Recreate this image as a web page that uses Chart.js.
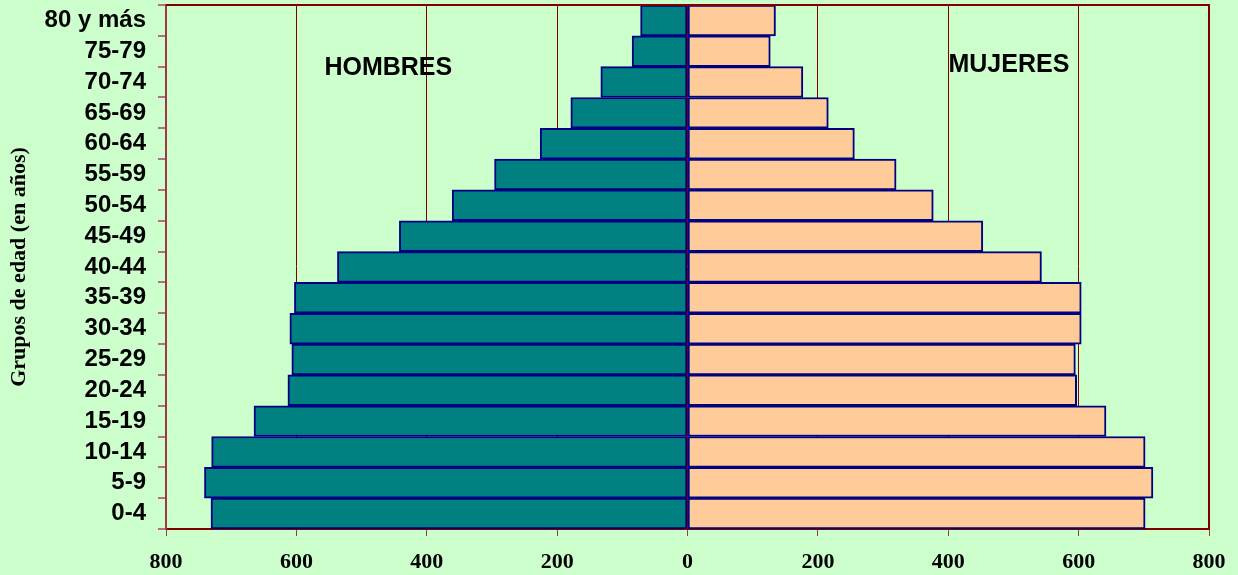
<!DOCTYPE html>
<html>
<head>
<meta charset="utf-8">
<script src="https://cdn.jsdelivr.net/npm/chart.js"></script>
<style>
  html, body { margin: 0; padding: 0; background: #CCFFCC; }
  #wrap { width: 1238px; height: 575px; position: relative; }
</style>
</head>
<body>
<div id="wrap"><canvas id="pyramid"></canvas></div>
<script>
// grupos de edad, de abajo hacia arriba
const ageGroups = ['0-4', '5-9', '10-14', '15-19', '20-24', '25-29', '30-34', '35-39',
  '40-44', '45-49', '50-54', '55-59', '60-64', '65-69', '70-74', '75-79', '80 y más'];
const hombres = [731, 741, 730, 665, 613, 607, 610, 603, 537, 442, 361, 296, 226, 179, 133, 85, 72];
const mujeres = [702, 714, 702, 642, 597, 595, 604, 604, 543, 453, 377, 320, 256, 216, 177, 127, 135];
const xTicks = [-800, -600, -400, -200, 0, 200, 400, 600, 800];
const sideLabels = ['HOMBRES', 'MUJERES'];

const darkRed = '#800000';
const mauve = '#A0384A';

// marco superior/derecho y rótulos de cada lado
const extras = {
  id: 'extras',
  afterDraw(chart) {
    const { ctx, chartArea: a, scales } = chart;
    ctx.save();
    ctx.strokeStyle = darkRed;
    ctx.lineWidth = 2;
    ctx.beginPath();
    ctx.moveTo(a.left, a.top);
    ctx.lineTo(a.right, a.top);
    ctx.lineTo(a.right, a.bottom);
    ctx.stroke();

    ctx.fillStyle = '#000';
    ctx.font = 'bold 25px "Liberation Sans", Arial, sans-serif';
    ctx.textAlign = 'center';
    ctx.textBaseline = 'middle';
    ctx.fillText(sideLabels[0], scales.x.getPixelForValue(-459), a.top + 63);
    ctx.fillText(sideLabels[1], scales.x.getPixelForValue(493), a.top + 60);
    ctx.restore();
  }
};

new Chart(document.getElementById('pyramid'), {
  type: 'bar',
  data: {
    labels: ageGroups,
    datasets: [{
      label: 'Hombres',
      data: hombres.map(v => -v),
      backgroundColor: '#008080',
      borderColor: '#000080',
      borderWidth: 2,
      borderSkipped: false
    }, {
      label: 'Mujeres',
      data: mujeres,
      backgroundColor: '#FFCC99',
      borderColor: '#000080',
      borderWidth: 2,
      borderSkipped: false
    }]
  },
  options: {
    indexAxis: 'y',
    responsive: true,
    maintainAspectRatio: false,
    animation: false,
    layout: { padding: { top: 5, right: 29, left: 0, bottom: 0 } },
    datasets: { bar: { barPercentage: 1, categoryPercentage: 1 } },
    plugins: {
      legend: { display: false },
      tooltip: { enabled: false }
    },
    scales: {
      x: {
        stacked: true,
        min: -800,
        max: 800,
        afterBuildTicks: s => { s.ticks = xTicks.map(v => ({ value: v })); },
        afterFit: s => { s.height = 46; s.paddingLeft = 0; s.paddingRight = 0; },
        ticks: {
          callback: v => Math.abs(v),
          color: '#000',
          padding: 13,
          maxRotation: 0,
          font: { family: '"Liberation Serif", "Times New Roman", serif', size: 22, weight: 'bold' }
        },
        grid: {
          color: darkRed,
          lineWidth: 1,
          tickLength: 7,
          tickColor: mauve
        },
        border: { display: true, color: darkRed, width: 2 }
      },
      y: {
        stacked: true,
        reverse: true,
        afterFit: s => { s.width = 166; s.paddingTop = 0; s.paddingBottom = 0; },
        ticks: {
          color: '#000',
          padding: 12,
          autoSkip: false,
          font: { family: '"Liberation Sans", Arial, sans-serif', size: 24, weight: 'bold' }
        },
        grid: {
          drawOnChartArea: false,
          offset: true,
          tickLength: 8,
          tickColor: '#B07080',
          lineWidth: 2
        },
        border: { display: true, color: mauve, width: 2 },
        title: {
          display: true,
          text: 'Grupos de edad (en años)',
          color: '#000',
          padding: { top: 6, bottom: 0 },
          font: { family: '"Liberation Serif", "Times New Roman", serif', size: 22, weight: 'bold' }
        }
      }
    }
  },
  plugins: [extras]
});
</script>
</body>
</html>
